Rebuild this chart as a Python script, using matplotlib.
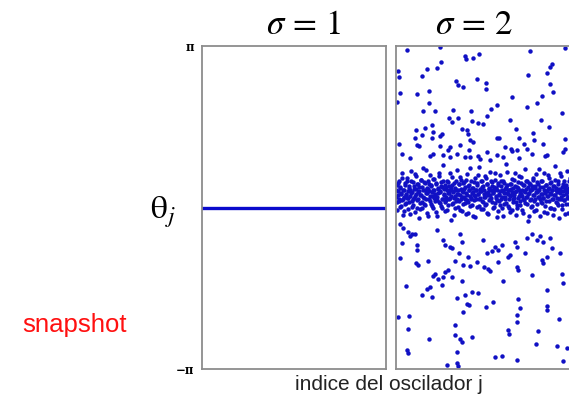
import numpy as np
import matplotlib
matplotlib.use("Agg")
import matplotlib.pyplot as plt

# --- datos (theta en grados, j = indice del oscilador) ---
N = 552
theta_sync = 0.0  # sigma = 1: todos los osciladores en fase

# sigma = 2: puntos dispersos (j, theta)
sparse_j = [32, 132, 207, 210, 232, 250, 402, 507, 7, 9, 134, 124, 77, 92, 397, 467, 462, 452,
            12, 4, 62, 100, 180, 187, 200, 242, 270, 270, 347, 422, 437, 462, 472,
            99, 117, 80, 170, 159, 167, 187, 224, 227, 247, 260, 274, 284, 302, 394, 434, 497,
            60, 57, 87, 107, 110, 77, 107, 137, 132, 197, 214, 217, 222, 232, 302, 310, 342, 360,
            370, 410, 414, 442, 460, 507,
            10, 62, 70, 132, 157, 162, 192, 220, 247, 272, 302, 322, 327, 344, 347, 362, 384, 392,
            370, 407, 447, 452, 502, 507, 17, 42, 102, 112, 142, 162, 182, 207, 222, 252, 282,
            12, 22, 37, 42, 47, 57, 17, 12, 64, 64, 60, 67, 97, 122, 142, 147, 162, 167, 192, 197,
            190, 177, 202, 217, 222, 244, 262, 264, 277, 282, 272, 287, 297, 307, 317, 307, 337,
            342, 357, 362, 387, 392, 407, 422, 432, 442, 462, 467, 437, 442, 362, 367, 407, 452, 492,
            30, 77, 92, 102, 107, 112, 117, 127, 142, 147, 157, 167, 137, 197, 184, 207, 212, 220,
            227, 247, 292, 270, 202, 322, 367, 372, 362, 362, 452, 452, 452, 497, 500, 490,
            7, 40, 37, 100, 177, 177, 192, 197, 227, 184, 152, 184, 187, 297, 317, 337, 340, 362,
            427, 420, 482, 512, 502, 34, 35]
sparse_theta = [175, 179, 169, 165, 167, 171, 174, 178, 152, 146, 162, 156, 147, 154, 148, 160, 157, 150,
                128, 118, 126, 130, 141, 136, 134, 143, 139, 132, 123, 117, 124, 138, 129,
                116, 108, 107, 109, 100, 95, 100, 107, 96, 94, 93, 102, 110, 114, 112, 97, 105,
                86, 77, 89, 92, 84, 81, 78, 82, 80, 87, 86, 82, 75, 73, 77, 78, 97, 88,
                78, 83, 75, 71, 90, 76,
                71, 70, 68, 68, 64, 67, 70, 64, 57, 62, 58, 56, 67, 65, 63, 64, 71, 65,
                55, 60, 57, 58, 62, 65, 60, 55, 57, 60, 58, 56, 60, 56, 56, 54, 53,
                -18, -23, -27, -32, -30, -29, -40, -56, -42, -47, -62, -64, -60, -25, -36, -42, -44, -45, -30, -38,
                -51, -60, -64, -55, -65, -61, -36, -66, -69, -71, -51, -48, -44, -47, -42, -61, -55,
                -53, -38, -44, -51, -34, -29, -36, -32, -39, -34, -45, -58, -62, -66, -70, -75, -55, -51,
                -87, -97, -91, -89, -100, -76, -74, -80, -78, -72, -70, -77, -86, -82, -101, -98, -107, -109,
                -94, -95, -105, -111, -117, -82, -102, -112, -120, -128, -92, -110, -114, -74, -84, -124,
                -122, -121, -135, -147, -131, -142, -147, -150, -144, -161, -175, -173, -177, -167, -165, -136, -141, -170,
                -138, -152, -154, -157, -171, -159, -162]

# sigma = 2: banda densa cerca de theta ~ 15 grados (osciladores consecutivos)
band_a = [12, 25, -3, 18, 7, 30, 22, 2, 15, 38, 9, -8, 20, 27, 4, 14, 33, 11, -2, 24, 6, 19, 41, 16, 1,
          28, 10, 21, -5, 13, 35, 8, 26, 17, -12, 23, 5, 31, 14, 0, 19, 44, 11, 27, 3, 16, 22, -6, 29, 9,
          18, 36, 4, 24, 13, -1, 20, 32, 7, 15, 26, -9, 12, 21, 39, 6, 17, 28, 2, 23, 10, 47, 14, -4, 25,
          8, 19, 30, 3, 16, 24, 11, -14, 22, 34, 5, 18, 27, 13, 0, 20, 9, 42, 15, 26, 7, -3, 21, 31, 12,
          17, 4, 28, 10, 23, -7, 14, 37, 6, 19, 25, 2, 29, 11, 16, -10, 22, 8, 33, 13, 20, 1, 27, 15, 45,
          9, 21, -2, 18, 30, 6, 24, 12, 35, 3, 16, 26, -6, 14, 22, 8, 40, 19, 11, 28, 0, 17, 23, 5, 31,
          13, -11, 20, 27, 7, 15, 36, 10, 24, -1, 18, 29, 4, 21, 12, 48, 16, 25, 2, 19, 9, -5, 26, 14, 32,
          6, 22, 11, 38, 17, -8, 23, 3, 28, 13, 20, 7, 34, 15, -3, 25, 10, 18, 43, 5, 21, 29, 12, -15, 16,
          27, 8, 19, 1, 24, 31, 14, -4, 22, 9, 37, 17, 4, 26, 12, 20, -9, 30, 6, 15, 23, 11, 39, 2, 18,
          25, 13, -6, 21, 7, 33, 16, 28, 0, 19, 10, 24, -2, 14, 46, 22, 5, 17, 29, 9, -12, 20, 12, 35, 3,
          18, 26, 8, -7, 23, 15, 41, 11, 21, 4, 30, 13, -1, 19, 27, 6, 16, 24, 10, 36, 1, 22, 14, -5, 28]
band_b = [20, 6, 14, 27, 10, 1, 23, 16, 33, 8, 19, 12, -4, 25, 15, 5, 29, 18, 11, 22, -7, 13, 30, 7, 17,
          3, 24, 11, 37, 15, 21, 0, 26, 9, 18, -2, 14, 31, 6, 23, 12, 28, 4, 19, 10, 42, 16, -9, 21, 26,
          13, 7, 25, 17, 2, 32, 11, 20, 14, -5, 27, 8, 22, 16, 35, 5, 18, 24, 10, -1, 29, 15, 21, 6, 12,
          23, -3, 16, 28, 9, 19, 39, 13, 4, 25, 17, 11, -8, 22, 30, 7, 15, 20, 1, 26, 14, 34, 10, 18, -4,
          27, 12, 21, 5, 16, 31, 8, 24, -6, 19, 13, 44, 10, 22, 3, 17, 28, 14, -11, 20, 9, 25, 15, 36, 2,
          18, 11, 29, 7, 23, -2, 15, 20, 12, 33, 4, 26, 17, -7, 21, 9, 14, 30, 6, 24, 16, 1, 19, 38, 11,
          22, 8, -4, 25, 14, 18, 3, 29, 12, 20, -9, 16, 27, 10, 23, 5, 40, 15, 19, 0, 26, 13, 21, -3, 17,
          9, 31, 14, 24, 6, 18, -1, 22, 11, 35, 16, 3, 27, 13, 20, -6, 25, 8, 17, 29, 12, 4, 23, 15, -10,
          19, 26, 10, 2, 21, 33, 14, 7, 24, 17, -3, 28, 12, 19, 43, 9, 23, 15, 5, 30, 11, -5, 20, 16, 25,
          7, 18, 36, 13, 22, 0, 27, 15, 9, 20, -8, 24, 14, 31, 6, 19, 11, 26, 3, 21, 16, 38, 10, -2, 23,
          14, 29, 8, 19, 25, 4, 17, 12, -6, 22, 33, 10, 18, 27, 6, 15, 24, 1, 20, 13, 28, 9, -4, 16, 21]

titles = [r'$\sigma\,=\,1$', r'$\sigma\,=\,2$']
ytick_labels = ['\u2212\u03c0', '\u03c0']

plt.rcParams['mathtext.fontset'] = 'stix'

W, H = 569, 397
fig = plt.figure(figsize=(W / 100, H / 100), dpi=100)

def box(x0, y0, x1, y1):
    return [x0 / W, 1 - y1 / H, (x1 - x0) / W, (y1 - y0) / H]

ax1 = fig.add_axes(box(202, 46, 386, 369))
ax2 = fig.add_axes(box(396, 46, 580, 369))

blue = '#1010c4'
ax1.axhline(theta_sync, color='#0a0acc', lw=2.4)

ja = np.arange(len(band_a)) * 2
jb = np.arange(len(band_b)) * 2 + 1
ms = 3.2
ax2.plot(ja, band_a, 'o', color=blue, ms=ms, mew=0)
ax2.plot(jb, band_b, 'o', color=blue, ms=ms, mew=0)
ax2.plot(sparse_j, sparse_theta, 'o', color=blue, ms=ms, mew=0)

for ax in (ax1, ax2):
    ax.set_xlim(0, N)
    ax.set_ylim(-180, 180)
    ax.set_xticks([])
    ax.set_yticks([])
    for s in ax.spines.values():
        s.set_color('#8c8c8c')
        s.set_linewidth(1.3)

ax1.set_yticks([-180, 180])
ax1.set_yticklabels(ytick_labels, fontsize=8.5, family='DejaVu Serif', fontweight='bold')
ax1.tick_params(axis='y', length=0, pad=6)

fig.text(304 / W, 1 - 24 / H, titles[0], fontsize=25, ha='center', va='center')
fig.text(474 / W, 1 - 24 / H, titles[1], fontsize=25, ha='center', va='center')
fig.text(163 / W, 1 - 212 / H, r'$\mathrm{\theta}_{j}$', fontsize=24, ha='center', va='center')
fig.text(75 / W, 1 - 325 / H, 'snapshot', color='#ff1010', fontsize=18.5,
         family='Liberation Sans', ha='center', va='center')
fig.text(389 / W, 1 - 385 / H, 'indice del oscilador j', color='#222222', fontsize=15,
         family='Liberation Sans', ha='center', va='center')

fig.savefig('out.png', dpi=100)
